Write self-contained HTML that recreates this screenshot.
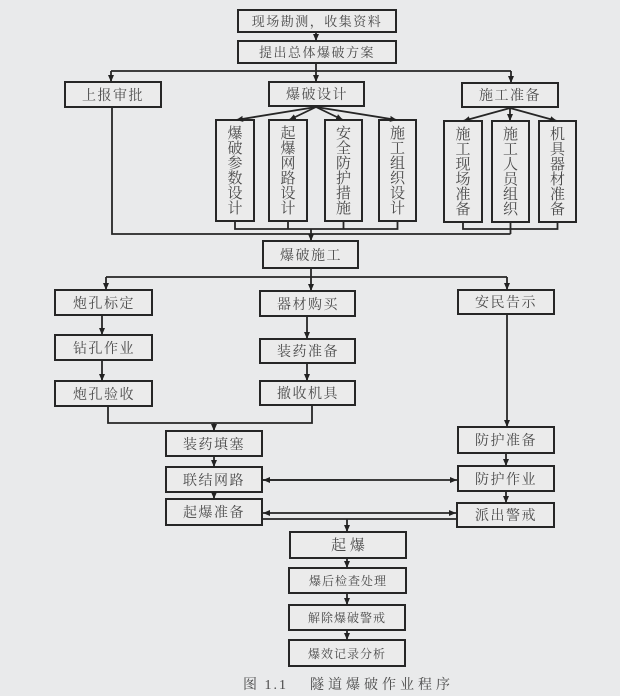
<!DOCTYPE html>
<html><head><meta charset="utf-8"><style>
html,body{margin:0;padding:0;background:#e9eaeb;}
svg{display:block;}
text{font-family:"Liberation Serif","Noto Serif CJK SC",serif;fill:#4a4a4a;}
</style></head><body>
<svg width="620" height="696" viewBox="0 0 620 696" xmlns="http://www.w3.org/2000/svg">
<defs>
<marker id="a" markerUnits="userSpaceOnUse" markerWidth="8" markerHeight="8" refX="7" refY="4" orient="auto">
<path d="M0,1 L7,4 L0,7 Z" fill="#222"/>
</marker>
</defs>
<rect width="620" height="696" fill="#e9eaeb"/>
<g fill="#ebebeb" stroke="#262626" stroke-width="2">
<rect x="238" y="10" width="158" height="22"/>
<rect x="238" y="41" width="158" height="22"/>
<rect x="65" y="82" width="96" height="25"/>
<rect x="269" y="82" width="95" height="24"/>
<rect x="462" y="83" width="96" height="24"/>
<rect x="216" y="120" width="38" height="101"/>
<rect x="269" y="120" width="38" height="101"/>
<rect x="325" y="120" width="37" height="101"/>
<rect x="379" y="120" width="37" height="101"/>
<rect x="444" y="121" width="38" height="101"/>
<rect x="492" y="121" width="37" height="101"/>
<rect x="539" y="121" width="37" height="101"/>
<rect x="263" y="241" width="95" height="27"/>
<rect x="55" y="290" width="97" height="25"/>
<rect x="260" y="291" width="95" height="25"/>
<rect x="458" y="290" width="96" height="24"/>
<rect x="55" y="335" width="97" height="25"/>
<rect x="260" y="339" width="95" height="24"/>
<rect x="55" y="381" width="97" height="25"/>
<rect x="260" y="381" width="95" height="24"/>
<rect x="166" y="431" width="96" height="25"/>
<rect x="166" y="467" width="96" height="25"/>
<rect x="166" y="499" width="96" height="26"/>
<rect x="458" y="427" width="96" height="26"/>
<rect x="458" y="466" width="96" height="25"/>
<rect x="457" y="503" width="97" height="24"/>
<rect x="290" y="532" width="116" height="26"/>
<rect x="289" y="568" width="117" height="25"/>
<rect x="289" y="605" width="116" height="25"/>
<rect x="289" y="640" width="116" height="26"/>
</g>
<g stroke="#262626" stroke-width="1.8" fill="none">
<line x1="316" y1="32" x2="316" y2="41" marker-end="url(#a)"/>
<polyline points="316,63 316,71"/>
<line x1="111" y1="71" x2="511" y2="71"/>
<line x1="111" y1="71" x2="111" y2="82" marker-end="url(#a)"/>
<line x1="316" y1="71" x2="316" y2="82" marker-end="url(#a)"/>
<line x1="511" y1="71" x2="511" y2="83" marker-end="url(#a)"/>
<line x1="316" y1="107" x2="236" y2="120" marker-end="url(#a)"/>
<line x1="316" y1="107" x2="289" y2="120" marker-end="url(#a)"/>
<line x1="316" y1="107" x2="343" y2="120" marker-end="url(#a)"/>
<line x1="316" y1="107" x2="397" y2="120" marker-end="url(#a)"/>
<line x1="510" y1="108" x2="463" y2="121" marker-end="url(#a)"/>
<line x1="510" y1="108" x2="510" y2="121" marker-end="url(#a)"/>
<line x1="510" y1="108" x2="557" y2="121" marker-end="url(#a)"/>
<polyline points="235,221 235,229 397.5,229 397.5,221"/>
<polyline points="288,221 288,229"/>
<polyline points="343.5,221 343.5,229"/>
<polyline points="463,222 463,229 557.5,229 557.5,222"/>
<polyline points="510.5,222 510.5,234"/>
<polyline points="112,107 112,234 510.5,234"/>
<line x1="311" y1="229" x2="311" y2="241" marker-end="url(#a)"/>
<polyline points="311,268 311,277"/>
<line x1="106" y1="277" x2="507" y2="277"/>
<line x1="106" y1="277" x2="106" y2="290" marker-end="url(#a)"/>
<line x1="311" y1="277" x2="311" y2="291" marker-end="url(#a)"/>
<line x1="507" y1="277" x2="507" y2="290" marker-end="url(#a)"/>
<line x1="102" y1="315" x2="102" y2="335" marker-end="url(#a)"/>
<line x1="102" y1="360" x2="102" y2="381" marker-end="url(#a)"/>
<line x1="307" y1="316" x2="307" y2="339" marker-end="url(#a)"/>
<line x1="307" y1="363" x2="307" y2="381" marker-end="url(#a)"/>
<polyline points="108,406 108,423 312,423 312,405"/>
<line x1="214" y1="423" x2="214" y2="431" marker-end="url(#a)"/>
<line x1="214" y1="456" x2="214" y2="467" marker-end="url(#a)"/>
<line x1="214" y1="492" x2="214" y2="499" marker-end="url(#a)"/>
<line x1="507" y1="314" x2="507" y2="427" marker-end="url(#a)"/>
<line x1="506" y1="453" x2="506" y2="466" marker-end="url(#a)"/>
<line x1="506" y1="491" x2="506" y2="503" marker-end="url(#a)"/>
<line x1="263" y1="480" x2="457" y2="480" marker-start="url(#a)" marker-end="url(#a)" style="marker-start:none"/>
<line x1="360" y1="480" x2="263" y2="480" marker-end="url(#a)"/>
<line x1="360" y1="513" x2="456" y2="513" marker-end="url(#a)"/>
<line x1="360" y1="513" x2="263" y2="513" marker-end="url(#a)"/>
<line x1="262" y1="519" x2="457" y2="519"/>
<line x1="347" y1="519" x2="347" y2="532" marker-end="url(#a)"/>
<line x1="347" y1="558" x2="347" y2="568" marker-end="url(#a)"/>
<line x1="347" y1="593" x2="347" y2="605" marker-end="url(#a)"/>
<line x1="347" y1="630" x2="347" y2="640" marker-end="url(#a)"/>
</g>
<g font-size="13" text-anchor="middle" letter-spacing="1.5">
<text x="317" y="26">现场勘测，收集资料</text>
<text x="317" y="57">提出总体爆破方案</text>
</g>
<g font-size="14" text-anchor="middle" letter-spacing="1.5">
<text x="113" y="100">上报审批</text>
<text x="317" y="99">爆破设计</text>
<text x="510" y="100">施工准备</text>
<text x="311" y="260">爆破施工</text>
<text x="104" y="308">炮孔标定</text>
<text x="308" y="309">器材购买</text>
<text x="506" y="307">安民告示</text>
<text x="104" y="353">钻孔作业</text>
<text x="308" y="356">装药准备</text>
<text x="104" y="399">炮孔验收</text>
<text x="308" y="398">撤收机具</text>
<text x="214" y="449">装药填塞</text>
<text x="214" y="485">联结网路</text>
<text x="214" y="517">起爆准备</text>
<text x="506" y="445">防护准备</text>
<text x="506" y="484">防护作业</text>
<text x="506" y="520">派出警戒</text>
<text x="348" y="550" font-size="15" letter-spacing="0">起 爆</text>
</g>
<g font-size="12" text-anchor="middle" letter-spacing="1">
<text x="348" y="585">爆后检查处理</text>
<text x="347" y="622">解除爆破警戒</text>
<text x="347" y="658">爆效记录分析</text>
</g>
<g font-size="15" text-anchor="middle">
<text x="235" y="138">爆</text><text x="235" y="153">破</text><text x="235" y="168">参</text><text x="235" y="183">数</text><text x="235" y="198">设</text><text x="235" y="213">计</text>
<text x="288" y="138">起</text><text x="288" y="153">爆</text><text x="288" y="168">网</text><text x="288" y="183">路</text><text x="288" y="198">设</text><text x="288" y="213">计</text>
<text x="343.5" y="138">安</text><text x="343.5" y="153">全</text><text x="343.5" y="168">防</text><text x="343.5" y="183">护</text><text x="343.5" y="198">措</text><text x="343.5" y="213">施</text>
<text x="397.5" y="138">施</text><text x="397.5" y="153">工</text><text x="397.5" y="168">组</text><text x="397.5" y="183">织</text><text x="397.5" y="198">设</text><text x="397.5" y="213">计</text>
<text x="463" y="139">施</text><text x="463" y="154">工</text><text x="463" y="169">现</text><text x="463" y="184">场</text><text x="463" y="199">准</text><text x="463" y="214">备</text>
<text x="510.5" y="139">施</text><text x="510.5" y="154">工</text><text x="510.5" y="169">人</text><text x="510.5" y="184">员</text><text x="510.5" y="199">组</text><text x="510.5" y="214">织</text>
<text x="557.5" y="139">机</text><text x="557.5" y="154">具</text><text x="557.5" y="169">器</text><text x="557.5" y="184">材</text><text x="557.5" y="199">准</text><text x="557.5" y="214">备</text>
</g>
<text x="243" y="689" font-size="14" letter-spacing="2" fill="#5a5a5a">图 1.1</text>
<text x="310" y="689" font-size="14" letter-spacing="4" fill="#5a5a5a">隧道爆破作业程序</text>
</svg>
</body></html>
